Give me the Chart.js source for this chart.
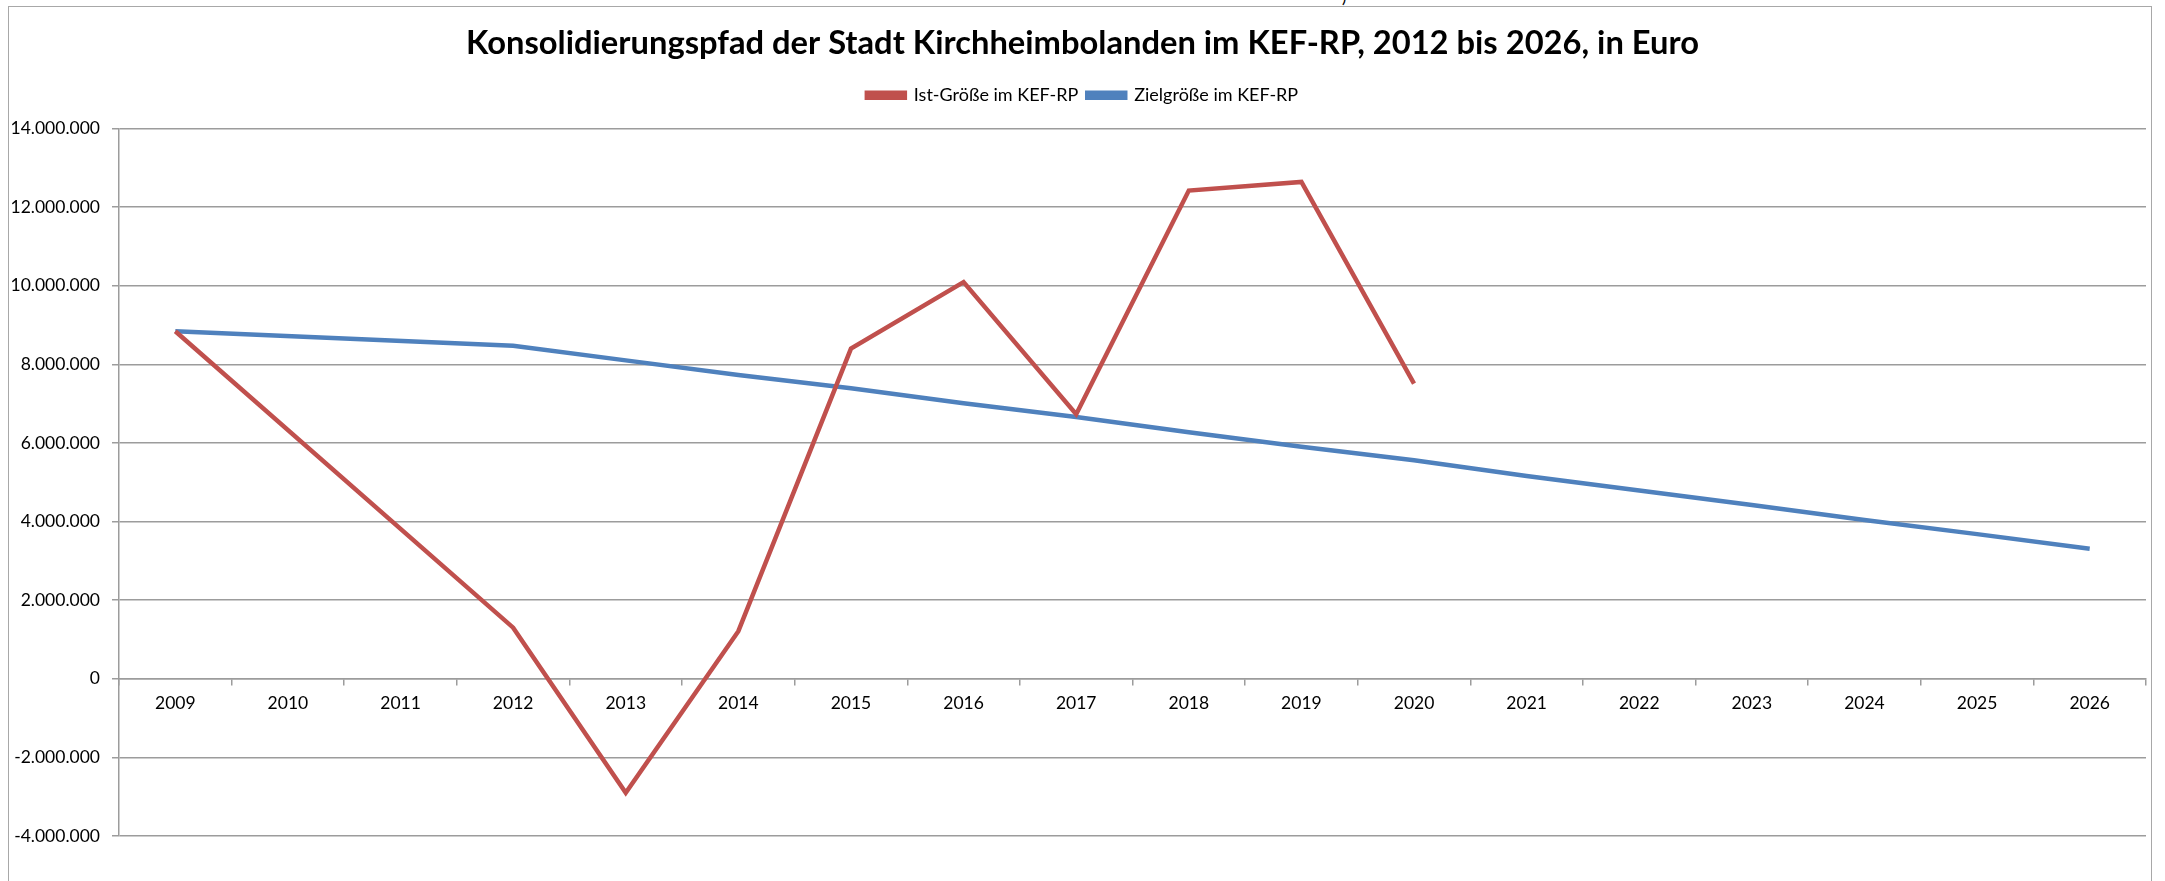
<!DOCTYPE html>
<html>
<head>
<meta charset="utf-8">
<script src="https://cdn.jsdelivr.net/npm/chart.js@4.4.1/dist/chart.umd.min.js"></script>
<style>
html, body { margin: 0; padding: 0; background: #fff; overflow: hidden; }
#frame { position: absolute; left: 8px; top: 6px; width: 2142px; height: 900px; border: 1.5px solid #a8a8a8; }
#cut { position: absolute; left: 1342px; top: -13px; font: 16px Lato; color: #000; }
#wrap { position: absolute; left: 0; top: 0; width: 2165px; height: 881px; }
</style>
</head>
<body>
<div id="frame"></div>
<div id="cut">)</div>
<div id="wrap"><canvas id="myChart" width="2165" height="881"></canvas></div>
<script>
const labels = [
    '2009', '2010', '2011', '2012', '2013', '2014', '2015', '2016', '2017',
    '2018', '2019', '2020', '2021', '2022', '2023', '2024', '2025', '2026',
];

// Ist-Größe im KEF-RP (no values for 2010, 2011 and after 2020)
const istValues = [
    8840000, null, null, 1300000, -2900000, 1210000, 8400000, 10090000, 6730000,
    12420000, 12640000, 7510000, null, null, null, null, null, null,
];

// Zielgröße im KEF-RP
const zielValues = [
    8840000, null, null, 8470000, 8100000, 7730000, 7390000, 7010000, 6660000,
    6270000, 5900000, 5560000, 5160000, 4790000, 4420000, 4040000, 3680000, 3310000,
];

const yMin = -4000000;
const yMax = 14000000;
const yStep = 2000000;

const gridColor = '#9c9c9c';
const font = 'Lato';

function formatDE(v) {
    return String(v).replace(/\B(?=(\d{3})+(?!\d))/g, '.');
}

const config = {
    type: 'line',
    data: {
        labels: labels,
        datasets: [{
            label: 'Ist-Größe im KEF-RP',
            data: istValues,
            borderColor: '#C0504D',
            backgroundColor: '#C0504D',
            borderWidth: 4.5,
            pointRadius: 0,
            spanGaps: true,
        }, {
            label: 'Zielgröße im KEF-RP',
            data: zielValues,
            borderColor: '#4F81BD',
            backgroundColor: '#4F81BD',
            borderWidth: 4.5,
            pointRadius: 0,
            spanGaps: true,
        }]
    },
    options: {
        responsive: false,
        animation: false,
        layout: { padding: { left: 0, right: 0, top: 0, bottom: 45 } },
        plugins: {
            title: {
                display: true,
                text: 'Konsolidierungspfad der Stadt Kirchheimbolanden im KEF-RP, 2012 bis 2026, in Euro',
                font: { family: font, size: 32.7, weight: 'bold' },
                color: '#000',
                padding: { top: 24, bottom: 14 },
            },
            legend: {
                position: 'top',
                labels: {
                    boxWidth: 38,
                    boxHeight: 5,
                    padding: 9,
                    color: '#000',
                    font: { family: font, size: 18 },
                },
            },
            // empty spacer between legend and plot area
            subtitle: {
                display: true,
                text: '',
                weight: 500,
                font: { size: 1 },
                padding: { top: 13, bottom: 0 },
            },
            tooltip: { enabled: false },
        },
        scales: {
            x: {
                position: { y: 0 },
                offset: true,
                grid: {
                    offset: true,
                    drawOnChartArea: false,
                    tickLength: 6,
                    color: gridColor,
                    lineWidth: 1.5,
                },
                border: { color: gridColor, width: 1.5 },
                ticks: {
                    color: '#000',
                    font: { family: font, size: 17.5 },
                    padding: 8,
                    maxRotation: 0,
                    autoSkip: false,
                },
            },
            y: {
                min: yMin,
                max: yMax,
                ticks: {
                    stepSize: yStep,
                    color: '#000',
                    font: { family: font, size: 17.5 },
                    padding: 12,
                    callback: (v) => formatDE(v),
                },
                grid: { color: gridColor, lineWidth: 1.5, tickLength: 7 },
                border: { color: gridColor, width: 1.5 },
                afterFit: (scale) => { scale.width = 119; },
            },
            // blank right margin so title and legend stay centred on the canvas
            yRight: {
                type: 'linear',
                position: 'right',
                grid: { display: false },
                border: { display: false },
                ticks: { display: false },
                afterFit: (scale) => { scale.width = 19; },
            },
        },
    },
};

const myChart = new Chart(document.getElementById('myChart'), config);
</script>
</body>
</html>
